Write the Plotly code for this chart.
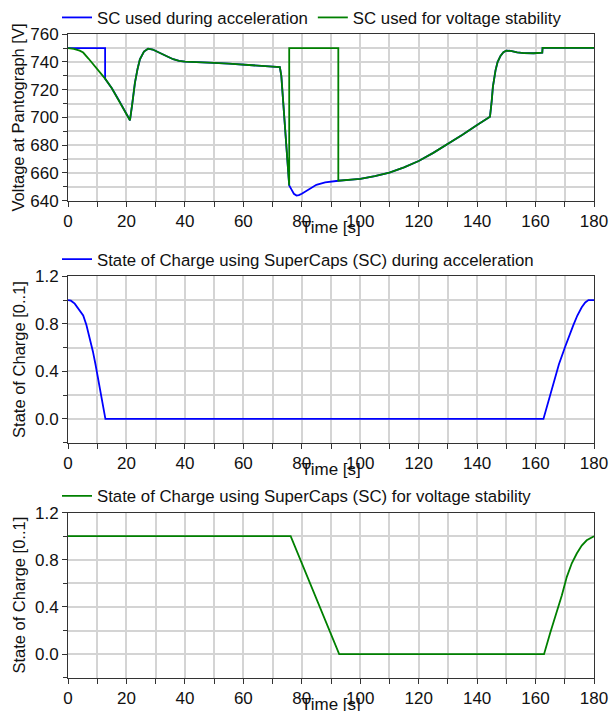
import plotly.graph_objects as go

# ---------------- data ----------------
# Voltage at pantograph, SC used during acceleration (blue)
t_v_acc = [0, 12.7, 12.7, 15, 17.2, 19.2, 21.2, 22, 22.9, 23.8, 24.6, 26, 27.4, 29, 31.4, 34, 36, 38, 40,
           45, 50, 55, 60, 65, 70, 72.5, 73, 73.5, 74.2, 75, 75.7, 76.5, 77.3, 78.2, 79, 80, 82, 85, 88, 90, 92.5,
           96, 100, 105, 110, 115, 120, 125, 130, 135, 140, 144.4, 145, 145.4, 146.3, 147, 148, 149, 150,
           151.5, 153.7, 156, 159.4, 162.3, 162.4, 170, 180]
v_acc = [750, 750, 728, 721, 713.2, 706, 698, 710, 725, 735, 742, 747.5, 749.6, 749, 746.8, 744, 742, 740.8, 740.3,
         739.6, 739.3, 738.8, 738, 737, 736.6, 736.3, 730, 715, 695, 670, 651, 648, 645, 643.7, 644, 645, 647.8, 651.5, 653.3, 654, 654.4,
         655, 655.8, 657.8, 660.2, 664, 668.6, 674.5, 680.8, 687.5, 694.5, 700.5, 712, 722, 734, 740, 744.4, 747, 748.2,
         748, 747, 746.4, 746.3, 746.8, 750.2, 750.2, 750.2]

# Voltage at pantograph, SC used for voltage stability (green)
t_v_stab = [0, 2, 4, 5.2, 7, 8.6, 10.5, 12.7, 15, 17.2, 19.2, 21.2, 22, 22.9, 23.8, 24.6, 26, 27.4, 29, 31.4, 34, 36, 38, 40,
            45, 50, 55, 60, 65, 70, 72.5, 73, 73.5, 74.2, 75, 75.7, 75.7, 92.5, 92.5,
            96, 100, 105, 110, 115, 120, 125, 130, 135, 140, 144.4, 145, 145.4, 146.3, 147, 148, 149, 150,
            151.5, 153.7, 156, 159.4, 162.3, 162.4, 170, 180]
v_stab = [750, 749.5, 748.2, 746.8, 742.5, 738.4, 733.5, 728, 721, 713.2, 706, 698, 710, 725, 735, 742, 747.5, 749.6, 749, 746.8, 744, 742, 740.8, 740.3,
          739.6, 739.3, 738.8, 738, 737, 736.6, 736.3, 730, 715, 695, 670, 651, 750, 750, 654.4,
          655, 655.8, 657.8, 660.2, 664, 668.6, 674.5, 680.8, 687.5, 694.5, 700.5, 712, 722, 734, 740, 744.4, 747, 748.2,
          748, 747, 746.4, 746.3, 746.8, 750.2, 750.2, 750.2]

# State of charge, SC during acceleration (blue)
t_soc_acc = [0, 1, 2.3, 3.5, 5.2, 6.3, 7.4, 8.5, 9.4, 10.3, 11.5, 12.8, 162.7, 164, 166.1, 168, 170.1, 171.5,
             172.9, 174.3, 175.8, 177, 178.1, 180]
soc_acc = [1.0, 0.995, 0.97, 0.93, 0.87, 0.79, 0.69, 0.57, 0.46, 0.33, 0.17, 0.0, 0.0, 0.11, 0.30, 0.46, 0.605, 0.70,
           0.787, 0.87, 0.94, 0.98, 1.0, 1.0]

# State of charge, SC for voltage stability (green)
t_soc_stab = [0, 76.2, 92.8, 162.9, 165, 167.2, 169, 170.7, 172.4, 174.1, 175.8, 177.5, 179, 180]
soc_stab = [1.0, 1.0, 0.0, 0.0, 0.18, 0.345, 0.5, 0.655, 0.77, 0.853, 0.92, 0.965, 0.99, 1.0]

names_top = ["SC used during acceleration", "SC used for voltage stability"]
name_mid = "State of Charge using SuperCaps (SC) during acceleration"
name_bot = "State of Charge using SuperCaps (SC) for voltage stability"

BLUE = "#0000ff"
GREEN = "#008000"
FONT = "Liberation Sans, Arial, sans-serif"
GRID = "#d4d4d4"
AXIS = "#333333"
TXT = "#111111"

W, H = 610, 711
xl, xr = 68, 594
plots = [(33.3, 200.0), (275.7, 442.3), (512.3, 677.7)]


def ydom(top, bot):
    return [1 - bot / H, 1 - top / H]


fig = go.Figure()
fig.add_trace(go.Scatter(x=t_v_acc, y=v_acc, mode="lines", name=names_top[0],
                         line=dict(color=BLUE, width=1.8), xaxis="x", yaxis="y", legend="legend"))
fig.add_trace(go.Scatter(x=t_v_stab, y=v_stab, mode="lines", name=names_top[1],
                         line=dict(color=GREEN, width=1.8), xaxis="x", yaxis="y", legend="legend"))
fig.add_trace(go.Scatter(x=t_soc_acc, y=soc_acc, mode="lines", name=name_mid,
                         line=dict(color=BLUE, width=1.8), xaxis="x2", yaxis="y2", legend="legend2"))
fig.add_trace(go.Scatter(x=t_soc_stab, y=soc_stab, mode="lines", name=name_bot,
                         line=dict(color=GREEN, width=1.8), xaxis="x3", yaxis="y3", legend="legend3"))

xcommon = dict(range=[0, 180], tick0=0, dtick=20, ticks="outside", ticklen=5, tickcolor=AXIS,
               showline=True, linecolor=AXIS, linewidth=1, mirror=True,
               showgrid=True, gridcolor=GRID, gridwidth=1.5, zeroline=False,
               minor=dict(dtick=10, showgrid=True, gridcolor=GRID, gridwidth=1.5, ticks="outside",
                          ticklen=5, tickcolor=AXIS),
               tickfont=dict(family=FONT, size=17, color=TXT),
               domain=[xl / W, xr / W], automargin=False)

ycommon = dict(ticks="outside", ticklen=5, tickcolor=AXIS,
               showline=True, linecolor=AXIS, linewidth=1, mirror=True,
               showgrid=True, gridcolor=GRID, gridwidth=1.5, zeroline=False,
               tickfont=dict(family=FONT, size=17, color=TXT),
               title_font=dict(family=FONT, size=16.5, color=TXT),
               automargin=False)

layout = dict(
    width=W, height=H, margin=dict(l=0, r=0, t=0, b=0),
    paper_bgcolor="white", plot_bgcolor="white",
    font=dict(family=FONT, size=16, color=TXT),
    xaxis=dict(**xcommon, anchor="y"),
    xaxis2=dict(**xcommon, anchor="y2"),
    xaxis3=dict(**xcommon, anchor="y3"),
    yaxis=dict(**ycommon, anchor="x", domain=ydom(*plots[0]), range=[640, 760], tick0=640, dtick=20,
               minor=dict(dtick=10, showgrid=True, gridcolor=GRID, gridwidth=1.5, ticks="outside",
                          ticklen=4, tickcolor=AXIS),
               title_text="Voltage at Pantograph [V]", title_standoff=1),
    yaxis2=dict(**ycommon, anchor="x2", domain=ydom(*plots[1]), range=[-0.2, 1.2], tick0=0, dtick=0.4,
                tickformat=".1f",
                minor=dict(dtick=0.2, tick0=0, showgrid=True, gridcolor=GRID, gridwidth=1.5, ticks="outside",
                           ticklen=4, tickcolor=AXIS),
                title_text="State of Charge [0..1]", title_standoff=5),
    yaxis3=dict(**ycommon, anchor="x3", domain=ydom(*plots[2]), range=[-0.2, 1.2], tick0=0, dtick=0.4,
                tickformat=".1f",
                minor=dict(dtick=0.2, tick0=0, showgrid=True, gridcolor=GRID, gridwidth=1.5, ticks="outside",
                           ticklen=4, tickcolor=AXIS),
                title_text="State of Charge [0..1]", title_standoff=5),
    showlegend=True,
)

leg_y = [16.5, 259.3, 496.0]
for i, key in enumerate(["legend", "legend2", "legend3"]):
    layout[key] = dict(orientation="h", x=57 / W, xanchor="left", y=1 - leg_y[i] / H, yanchor="middle",
                       bgcolor="rgba(0,0,0,0)", borderwidth=0,
                       font=dict(family=FONT, size=16.8, color=TXT),
                       itemwidth=30, tracegroupgap=0)

fig.update_layout(**layout)

for xa, ya in [("x", "y"), ("x2", "y2"), ("x3", "y3")]:
    fig.add_annotation(text="Time [s]", xref=xa + " domain", yref=ya + " domain", x=0.5, y=0,
                       xanchor="center", yanchor="middle", yshift=-27, showarrow=False,
                       font=dict(family=FONT, size=17, color=TXT))

fig.write_html("out.html", config={"displayModeBar": False},
               post_script="document.body.style.margin='0';document.body.style.overflow='hidden';")
